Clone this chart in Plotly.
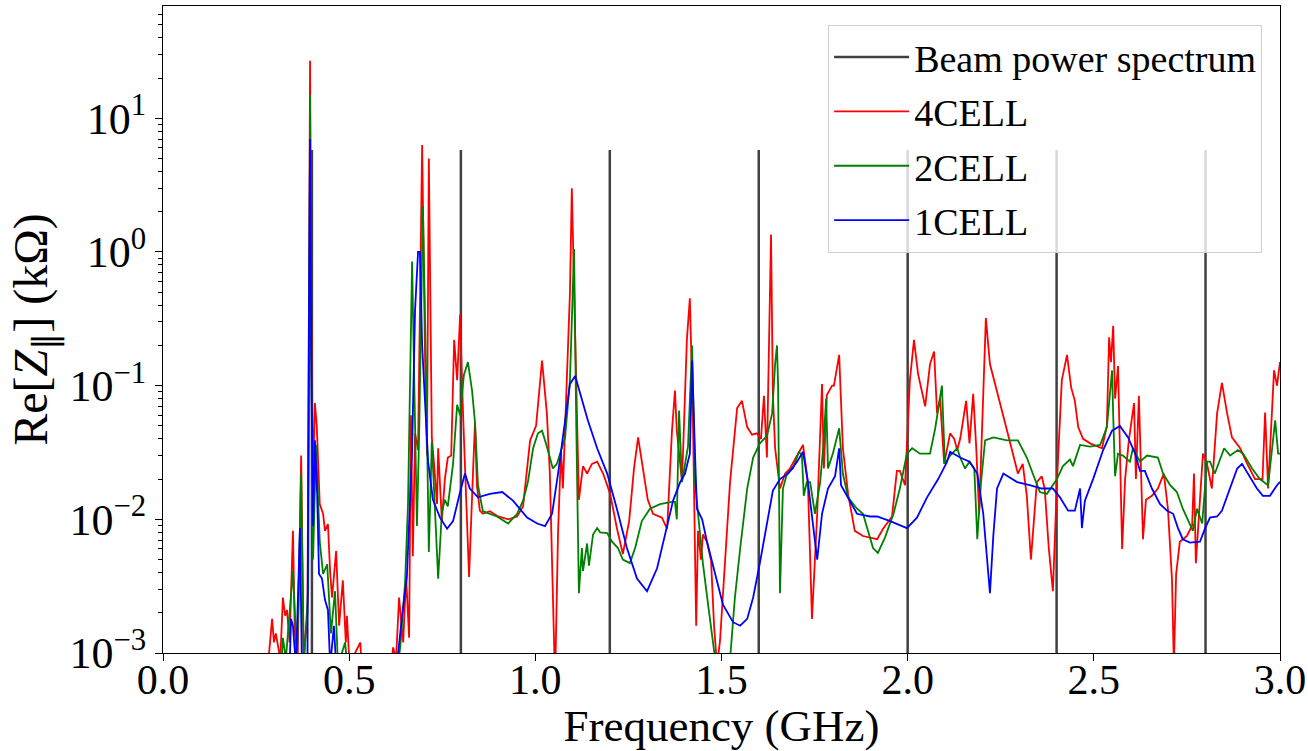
import plotly.graph_objects as go

# ---------------- data ----------------
beam_freq = [0.4, 0.8, 1.2, 1.6, 2.0, 2.4, 2.8]
beam_height = 5.8

cell4_f = [0.28, 0.293, 0.298, 0.303, 0.315, 0.322, 0.328, 0.333, 0.340, 0.349, 0.354, 0.362, 0.371, 0.378,
           0.388, 0.392, 0.395, 0.398, 0.403, 0.408, 0.413, 0.421, 0.430, 0.435, 0.443, 0.449, 0.454, 0.465,
           0.473, 0.483, 0.491, 0.494, 0.500, 0.516, 0.530, 0.534,
           0.61, 0.618, 0.626, 0.634, 0.645, 0.653, 0.661, 0.666, 0.671, 0.677, 0.685, 0.690, 0.696, 0.704,
           0.709, 0.714, 0.722, 0.728, 0.736, 0.739, 0.749, 0.757, 0.765, 0.774, 0.782, 0.790, 0.798, 0.806,
           0.814, 0.822, 0.833, 0.838, 0.843, 0.851, 0.859, 0.878, 0.900, 0.927, 0.951, 0.967, 0.986, 1.002,
           1.018, 1.031, 1.039, 1.047, 1.053, 1.061, 1.069, 1.074, 1.085, 1.093, 1.098, 1.107, 1.112, 1.117,
           1.128, 1.139, 1.152, 1.166, 1.182, 1.201, 1.219, 1.235, 1.252, 1.265, 1.276, 1.289, 1.302, 1.316,
           1.340, 1.354, 1.367, 1.375, 1.380, 1.394, 1.407, 1.415, 1.423, 1.432, 1.437, 1.445, 1.450, 1.461,
           1.472, 1.480, 1.488, 1.496, 1.507, 1.523, 1.542, 1.555, 1.569, 1.582, 1.595, 1.606, 1.614, 1.622,
           1.633, 1.638, 1.644, 1.657, 1.671, 1.684, 1.703, 1.719, 1.732, 1.743, 1.757, 1.770, 1.775, 1.783,
           1.797, 1.802, 1.816, 1.826, 1.840, 1.858, 1.880, 1.918, 1.934, 1.958, 1.971, 1.979, 1.993, 2.006,
           2.017, 2.028, 2.047, 2.060, 2.071, 2.079, 2.087, 2.098, 2.114, 2.125, 2.133, 2.141, 2.157, 2.166,
           2.176, 2.184, 2.192, 2.203, 2.210, 2.221, 2.240, 2.267, 2.296, 2.309, 2.320, 2.331, 2.347, 2.360,
           2.368, 2.379, 2.390, 2.401, 2.414, 2.428, 2.439, 2.449, 2.458, 2.471, 2.490, 2.522, 2.535, 2.541,
           2.546, 2.552, 2.557, 2.565, 2.576, 2.584, 2.594, 2.608, 2.613, 2.621, 2.632, 2.640, 2.656, 2.672,
           2.688, 2.699, 2.710, 2.715, 2.721, 2.731, 2.750, 2.764, 2.769, 2.774, 2.785, 2.793, 2.804, 2.817,
           2.831, 2.844, 2.858, 2.871, 2.893, 2.912, 2.933, 2.953, 2.960, 2.968, 2.984, 2.992, 3.000]
cell4_z = [0.0007, 0.0018, 0.0012, 0.0014, 0.0009, 0.0026, 0.0019, 0.0021, 0.0012, 0.0082, 0.0014, 0.0010, 0.030, 0.0009,
           0.002, 0.5, 27, 0.3, 0.02, 0.074, 0.05, 0.013, 0.011, 0.0082, 0.0092, 0.0040, 0.0026, 0.0058,
           0.0016, 0.0035, 0.0012, 0.0019, 0.0009, 0.0010, 0.0012, 0.0007,
           0.0007, 0.0011, 0.0009, 0.0026, 0.0012, 0.0037, 0.0013, 0.06, 0.0053, 0.044, 0.033, 0.37, 6.3, 0.15,
           0.03, 5.0, 0.041, 0.026, 0.013, 0.034, 0.0097, 0.02, 0.029, 0.03, 0.22, 0.11, 0.34, 0.06,
           0.015, 0.0037, 0.024, 0.053, 0.018, 0.0116, 0.011, 0.0115, 0.0105, 0.010, 0.0105, 0.0125, 0.039, 0.05,
           0.154, 0.062, 0.022, 0.0035, 0.0006, 0.008, 0.033, 0.017, 0.11, 0.5, 3.0, 0.3, 0.062, 0.014,
           0.025, 0.022, 0.026, 0.027, 0.022, 0.0155, 0.0086, 0.0055, 0.0097, 0.024, 0.041, 0.024, 0.014, 0.011,
           0.0103, 0.0085, 0.046, 0.092, 0.046, 0.019, 0.22, 0.45, 0.062, 0.0016, 0.0082, 0.005, 0.0077, 0.0068,
           0.0049, 0.0016, 0.0008, 0.00123, 0.0035, 0.019, 0.068, 0.077, 0.049, 0.043, 0.044, 0.040, 0.084, 0.029,
           1.35, 0.085, 0.034, 0.017, 0.022, 0.024, 0.03, 0.036, 0.019, 0.0018, 0.011, 0.103, 0.024, 0.085,
           0.1, 0.1, 0.17, 0.034, 0.0155, 0.0082, 0.0075, 0.0071, 0.0085, 0.0105, 0.023, 0.023, 0.018, 0.11,
           0.22, 0.122, 0.07, 0.145, 0.18, 0.062, 0.08, 0.026, 0.044, 0.040, 0.033, 0.040, 0.077, 0.037,
           0.087, 0.035, 0.011, 0.11, 0.32, 0.145, 0.092, 0.046, 0.022, 0.026, 0.015, 0.005, 0.019, 0.021,
           0.017, 0.0061, 0.0029, 0.019, 0.11, 0.17, 0.097, 0.077, 0.049, 0.04, 0.037, 0.034, 0.05, 0.23,
           0.15, 0.28, 0.08, 0.14, 0.006, 0.02, 0.039, 0.074, 0.02, 0.084, 0.0071, 0.014, 0.015, 0.017,
           0.022, 0.012, 0.0035, 0.0008, 0.0039, 0.0068, 0.0075, 0.009, 0.022, 0.0047, 0.014, 0.031, 0.026, 0.017,
           0.062, 0.105, 0.062, 0.041, 0.034, 0.026, 0.02, 0.02, 0.063, 0.017, 0.13, 0.1, 0.15]

cell2_f = [0.28, 0.318, 0.322, 0.330, 0.349, 0.360, 0.371, 0.378, 0.390, 0.392, 0.395, 0.398, 0.403, 0.411,
           0.421, 0.430, 0.441, 0.451, 0.462, 0.470, 0.489, 0.495,
           0.631, 0.637, 0.650, 0.658, 0.669, 0.675, 0.682, 0.688, 0.698, 0.706, 0.714, 0.722, 0.731, 0.739,
           0.749, 0.757, 0.765, 0.779, 0.790, 0.798, 0.808, 0.819, 0.830, 0.838, 0.846, 0.859, 0.897, 0.927,
           0.951, 0.967, 0.980, 0.994, 1.007, 1.018, 1.031, 1.047, 1.058, 1.069, 1.080, 1.093, 1.104, 1.110,
           1.117, 1.125, 1.128, 1.139, 1.144, 1.155, 1.166, 1.174, 1.193, 1.206, 1.222, 1.235, 1.254, 1.268,
           1.286, 1.308, 1.335, 1.367, 1.375, 1.380, 1.386, 1.394, 1.402, 1.410, 1.421, 1.429, 1.437, 1.450,
           1.464, 1.474, 1.483, 1.523, 1.536, 1.550, 1.569, 1.585, 1.603, 1.622, 1.636, 1.644, 1.649, 1.652,
           1.657, 1.665, 1.676, 1.692, 1.708, 1.716, 1.721, 1.729, 1.738, 1.751, 1.765, 1.773, 1.781, 1.786,
           1.799, 1.816, 1.826, 1.840, 1.864, 1.880, 1.891, 1.907, 1.920, 1.939, 1.962, 1.979, 1.998, 2.012,
           2.033, 2.060, 2.074, 2.082, 2.092, 2.100, 2.114, 2.133, 2.141, 2.154, 2.166, 2.179, 2.187, 2.197,
           2.208, 2.230, 2.267, 2.296, 2.320, 2.336, 2.355, 2.374, 2.401, 2.417, 2.436, 2.444, 2.463, 2.490,
           2.517, 2.535, 2.543, 2.549, 2.552, 2.557, 2.565, 2.578, 2.597, 2.605, 2.624, 2.643, 2.672, 2.686,
           2.705, 2.723, 2.739, 2.758, 2.766, 2.777, 2.791, 2.804, 2.812, 2.825, 2.850, 2.866, 2.887, 2.901,
           2.925, 2.946, 2.968, 2.987, 2.995, 3.000]
cell2_z = [0.0007, 0.0008, 0.0013, 0.0009, 0.0041, 0.0009, 0.022, 0.0008, 0.003, 0.5, 15, 0.2, 0.005, 0.036,
           0.0068, 0.0039, 0.0046, 0.0014, 0.0029, 0.0008, 0.0012, 0.0008,
           0.0008, 0.0011, 0.0033, 0.013, 0.85, 0.1, 0.0089, 0.044, 2.2, 0.15, 0.0057, 0.038, 0.011, 0.0036,
           0.0113, 0.014, 0.0125, 0.026, 0.072, 0.06, 0.12, 0.15, 0.092, 0.053, 0.018, 0.0115, 0.0105, 0.0093,
           0.011, 0.0138, 0.019, 0.034, 0.044, 0.046, 0.035, 0.024, 0.026, 0.032, 0.041, 0.11, 1.05, 0.05,
           0.0028, 0.0061, 0.0041, 0.0066, 0.0045, 0.0077, 0.0086, 0.0080, 0.0079, 0.0068, 0.0061, 0.005, 0.0047, 0.0061,
           0.0097, 0.012, 0.013, 0.0135, 0.0135, 0.010, 0.065, 0.019, 0.026, 0.035, 0.2, 0.019, 0.011, 0.0047,
           0.0023, 0.0014, 0.0009, 0.0009, 0.0026, 0.006, 0.017, 0.029, 0.037, 0.042, 0.062, 0.145, 0.2, 0.1,
           0.0028, 0.017, 0.022, 0.024, 0.032, 0.03, 0.015, 0.019, 0.019, 0.011, 0.019, 0.034, 0.08, 0.024,
           0.031, 0.048, 0.022, 0.0146, 0.012, 0.011, 0.0086, 0.0061, 0.0056, 0.0073, 0.011, 0.017, 0.031, 0.034,
           0.031, 0.031, 0.048, 0.068, 0.1, 0.026, 0.03, 0.034, 0.029, 0.024, 0.027, 0.024, 0.0071, 0.019,
           0.039, 0.041, 0.039, 0.039, 0.029, 0.022, 0.016, 0.0155, 0.02, 0.025, 0.028, 0.025, 0.036, 0.035,
           0.036, 0.049, 0.092, 0.13, 0.06, 0.021, 0.031, 0.030, 0.027, 0.034, 0.027, 0.03, 0.029, 0.022,
           0.018, 0.016, 0.012, 0.0093, 0.0082, 0.012, 0.0093, 0.027, 0.027, 0.022, 0.034, 0.03, 0.033, 0.031,
           0.024, 0.02, 0.018, 0.055, 0.031, 0.031]

cell1_f = [0.28, 0.340, 0.344, 0.349, 0.357, 0.368, 0.373, 0.388, 0.392, 0.395, 0.398, 0.403, 0.408, 0.414,
           0.419, 0.427, 0.435, 0.443, 0.449, 0.459, 0.465,
           0.628, 0.642, 0.655, 0.669, 0.677, 0.685, 0.690, 0.696, 0.704, 0.712, 0.725, 0.744, 0.763, 0.779,
           0.798, 0.811, 0.824, 0.846, 0.878, 0.911, 0.940, 0.978, 1.005, 1.026, 1.045, 1.061, 1.080, 1.093,
           1.107, 1.120, 1.141, 1.166, 1.193, 1.219, 1.246, 1.273, 1.300, 1.327, 1.348, 1.370, 1.389, 1.402,
           1.415, 1.421, 1.429, 1.434, 1.448, 1.461, 1.483, 1.504, 1.531, 1.550, 1.569, 1.585, 1.603, 1.622,
           1.638, 1.657, 1.679, 1.703, 1.719, 1.732, 1.746, 1.757, 1.770, 1.786, 1.805, 1.816, 1.821, 1.840,
           1.864, 1.899, 1.918, 1.953, 1.998, 2.025, 2.052, 2.082, 2.106, 2.114, 2.141, 2.166, 2.187, 2.203,
           2.213, 2.221, 2.230, 2.240, 2.257, 2.294, 2.328, 2.360, 2.390, 2.409, 2.431, 2.449, 2.463, 2.468,
           2.476, 2.498, 2.525, 2.549, 2.570, 2.592, 2.611, 2.624, 2.637, 2.656, 2.678, 2.697, 2.713, 2.726,
           2.739, 2.758, 2.785, 2.799, 2.812, 2.831, 2.844, 2.866, 2.885, 2.898, 2.914, 2.938, 2.954, 2.973,
           2.992, 3.000]
cell1_z = [0.0007, 0.0008, 0.0018, 0.0016, 0.0008, 0.0086, 0.0008, 0.0009, 0.3, 7, 0.2, 0.0089, 0.039, 0.0155,
           0.0039, 0.0036, 0.0025, 0.0021, 0.0008, 0.0016, 0.0008,
           0.0008, 0.0019, 0.0037, 0.033, 0.37, 1.0, 1.0, 0.2, 0.067, 0.027, 0.014, 0.0103, 0.0085, 0.0097,
           0.016, 0.022, 0.017, 0.0146, 0.0155, 0.016, 0.0138, 0.0103, 0.0093, 0.0089, 0.011, 0.022, 0.055, 0.103,
           0.118, 0.087, 0.055, 0.034, 0.022, 0.012, 0.0061, 0.0036, 0.0029, 0.0043, 0.0077, 0.0138, 0.019, 0.022,
           0.031, 0.154, 0.03, 0.012, 0.01, 0.0068, 0.0039, 0.0023, 0.0017, 0.0016, 0.0018, 0.0026, 0.0047, 0.0093,
           0.0164, 0.02, 0.022, 0.027, 0.032, 0.019, 0.0086, 0.005, 0.011, 0.017, 0.021, 0.034, 0.018, 0.0146,
           0.011, 0.0105, 0.0105, 0.0097, 0.0086, 0.0103, 0.0146, 0.02, 0.027, 0.032, 0.029, 0.027, 0.022, 0.011,
           0.0047, 0.0028, 0.0075, 0.017, 0.022, 0.019, 0.018, 0.017, 0.017, 0.0146, 0.0116, 0.0116, 0.017, 0.0086,
           0.0138, 0.02, 0.033, 0.046, 0.05, 0.041, 0.031, 0.023, 0.023, 0.017, 0.013, 0.0116, 0.011, 0.0086,
           0.0071, 0.0067, 0.0068, 0.0086, 0.0103, 0.0105, 0.0116, 0.017, 0.024, 0.026, 0.022, 0.017, 0.015, 0.015,
           0.018, 0.0191]

y_tick_vals = [1e-3, 1e-2, 1e-1, 1e0, 1e1]
y_tick_text = ["10<sup>−3</sup>", "10<sup>−2</sup>", "10<sup>−1</sup>", "10<sup>0</sup>", "10<sup>1</sup>"]
x_tick_vals = [0.0, 0.5, 1.0, 1.5, 2.0, 2.5, 3.0]
x_tick_text = ["0.0", "0.5", "1.0", "1.5", "2.0", "2.5", "3.0"]

# ---------------- figure ----------------
FONT = "Liberation Serif"

beam_x, beam_y = [], []
for f in beam_freq:
    beam_x += [f, f, None]
    beam_y += [1e-4, beam_height, None]

fig = go.Figure()
fig.add_trace(go.Scatter(x=beam_x, y=beam_y, mode="lines", name="Beam power spectrum",
                         legendgroup="g0", line=dict(color="rgba(0,0,0,0.75)", width=2.5)))
fig.add_trace(go.Scatter(x=cell4_f, y=cell4_z, mode="lines", name="4CELL",
                         legendgroup="g1", line=dict(color="#ff0000", width=1.8)))
fig.add_trace(go.Scatter(x=cell2_f, y=cell2_z, mode="lines", name="2CELL",
                         legendgroup="g2", line=dict(color="#008000", width=1.8)))
fig.add_trace(go.Scatter(x=cell1_f, y=cell1_z, mode="lines", name="1CELL",
                         legendgroup="g3", line=dict(color="#0000ff", width=1.8)))

minor_vals = [m * 10.0 ** e for e in range(-3, 2) for m in range(2, 10)]

fig.update_layout(
    width=1308, height=751,
    margin=dict(l=163, r=28, t=6, b=98),
    paper_bgcolor="white", plot_bgcolor="white",
    font=dict(family=FONT, size=38, color="black"),
    showlegend=True,
    legend=dict(x=0.984, y=0.971, xanchor="right", yanchor="top",
                bgcolor="rgba(255,255,255,0.8)", bordercolor="#d0d0d0", borderwidth=1,
                font=dict(family=FONT, size=38), tracegroupgap=2, itemwidth=75),
    xaxis=dict(range=[0, 3], tickvals=x_tick_vals, ticktext=x_tick_text,
               ticks="outside", ticklen=7, tickwidth=1, tickcolor="black",
               showline=True, linecolor="black", linewidth=1, mirror=True,
               showgrid=False, zeroline=False, automargin=False,
               ticklabelstandoff=-17,
               tickfont=dict(family=FONT, size=42),
               title=dict(text="Frequency (GHz)", font=dict(family=FONT, size=45), standoff=3)),
    yaxis=dict(type="log", range=[-3, 1.84], tickvals=y_tick_vals, ticktext=y_tick_text,
               ticks="outside", ticklen=7, tickwidth=1, tickcolor="black",
               minor=dict(tickvals=minor_vals, ticks="outside", ticklen=4, tickcolor="black", showgrid=False),
               showline=True, linecolor="black", linewidth=1, mirror=True,
               showgrid=False, zeroline=False, automargin=False,
               tickfont=dict(family=FONT, size=44),
               title=dict(text="Re[<i>Z</i><sub>∥</sub>] (kΩ)", font=dict(family=FONT, size=48), standoff=6)),
)

fig.write_html("out.html")
